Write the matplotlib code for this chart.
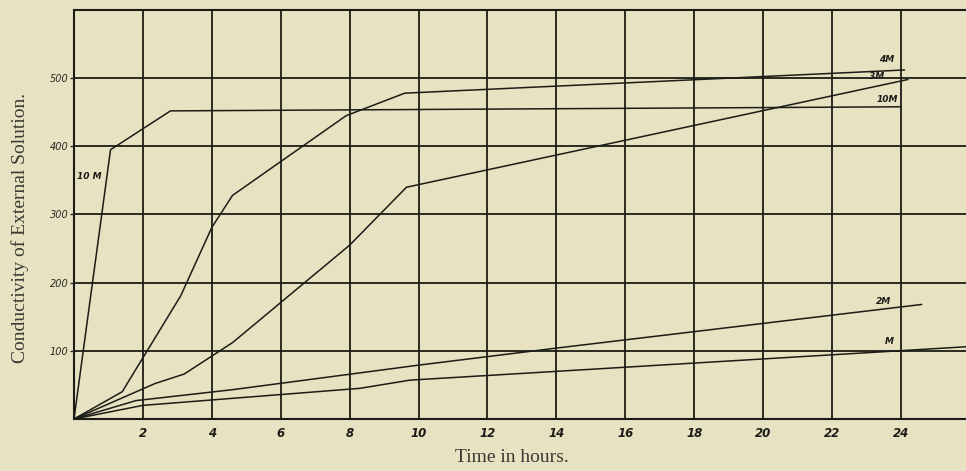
import numpy as np
import matplotlib
matplotlib.use('Agg')
from matplotlib import pyplot as plt

# values (time in hours, conductivity)
t_10M = [0, 1.06, 2.8, 24.0]
c_10M = [0, 395, 452, 458]
t_4M = [0, 1.4, 3.1, 4.0, 4.6, 7.9, 9.6, 24.1]
c_4M = [0, 40, 181, 281, 328, 445, 478, 512]
t_3M = [0, 2.35, 3.2, 4.6, 8.0, 9.65, 24.2]
c_3M = [0, 52, 66, 112, 255, 340, 498]
t_2M = [0, 1.8, 4.6, 10, 14, 24.6]
c_2M = [0, 27, 43, 79, 104, 168]
t_M = [0, 2, 8.3, 9.75, 25.9]
c_M = [0, 20, 45, 57, 106]

x_ticks = list(range(2, 25, 2))
y_ticks = [100, 200, 300, 400, 500]

# curve labels: (text, x, y)
curve_labels = [('4M', 23.6, 527), ('3M', 23.3, 503), ('10M', 23.6, 469),
                ('2M', 23.5, 172), ('M', 23.65, 114), ('10 M', 0.45, 356)]

paper = '#e6e2c2'
ink = '#1c1c16'

fig = plt.figure(figsize=(9.66, 4.71), dpi=100, facecolor=paper)
ax = fig.add_axes([74/966, 1-419/471, 1-74/966, 409/471])
ax.set_facecolor(paper)

for t, c in [(t_10M, c_10M), (t_4M, c_4M), (t_3M, c_3M), (t_2M, c_2M), (t_M, c_M)]:
    ax.plot(t, c, color=ink, lw=1.1, clip_on=False, zorder=3)

ax.set_xlim(0, 25.89)
ax.set_ylim(0, 600)
ax.set_xticks(x_ticks)
ax.set_yticks(y_ticks)
ax.set_xticklabels([str(v) for v in x_ticks])
ax.set_yticklabels([str(v) for v in y_ticks])
ax.grid(True, color=ink, lw=1.3)
ax.set_axisbelow(True)
for s in ['left', 'top', 'bottom']:
    ax.spines[s].set_color(ink)
    ax.spines[s].set_linewidth(1.5)
ax.spines['right'].set_visible(False)
ax.tick_params(axis='x', length=0, pad=6, labelsize=8.5, colors=ink)
ax.tick_params(axis='y', length=3, width=1, pad=1, labelsize=7, colors='#2a2a22')
for lab in ax.get_xticklabels():
    lab.set_fontstyle('italic')
    lab.set_fontweight('bold')
for lab in ax.get_yticklabels():
    lab.set_fontstyle('italic')

for txt, x, y in curve_labels:
    ax.text(x, y, txt, fontsize=6.5, fontstyle='italic', fontweight='bold',
            color=ink, ha='center', va='center')

fig.text(512/966, 1-458/471, 'Time in hours.', family='Liberation Serif',
         fontsize=14, color='#3a3a33', ha='center', va='center')
fig.text(20/966, 1-228/471, 'Conductivity of External Solution.',
         family='Liberation Serif', fontsize=14, color='#3a3a33',
         rotation=90, ha='center', va='center')

fig.savefig('out.png', dpi=100, facecolor=paper)
